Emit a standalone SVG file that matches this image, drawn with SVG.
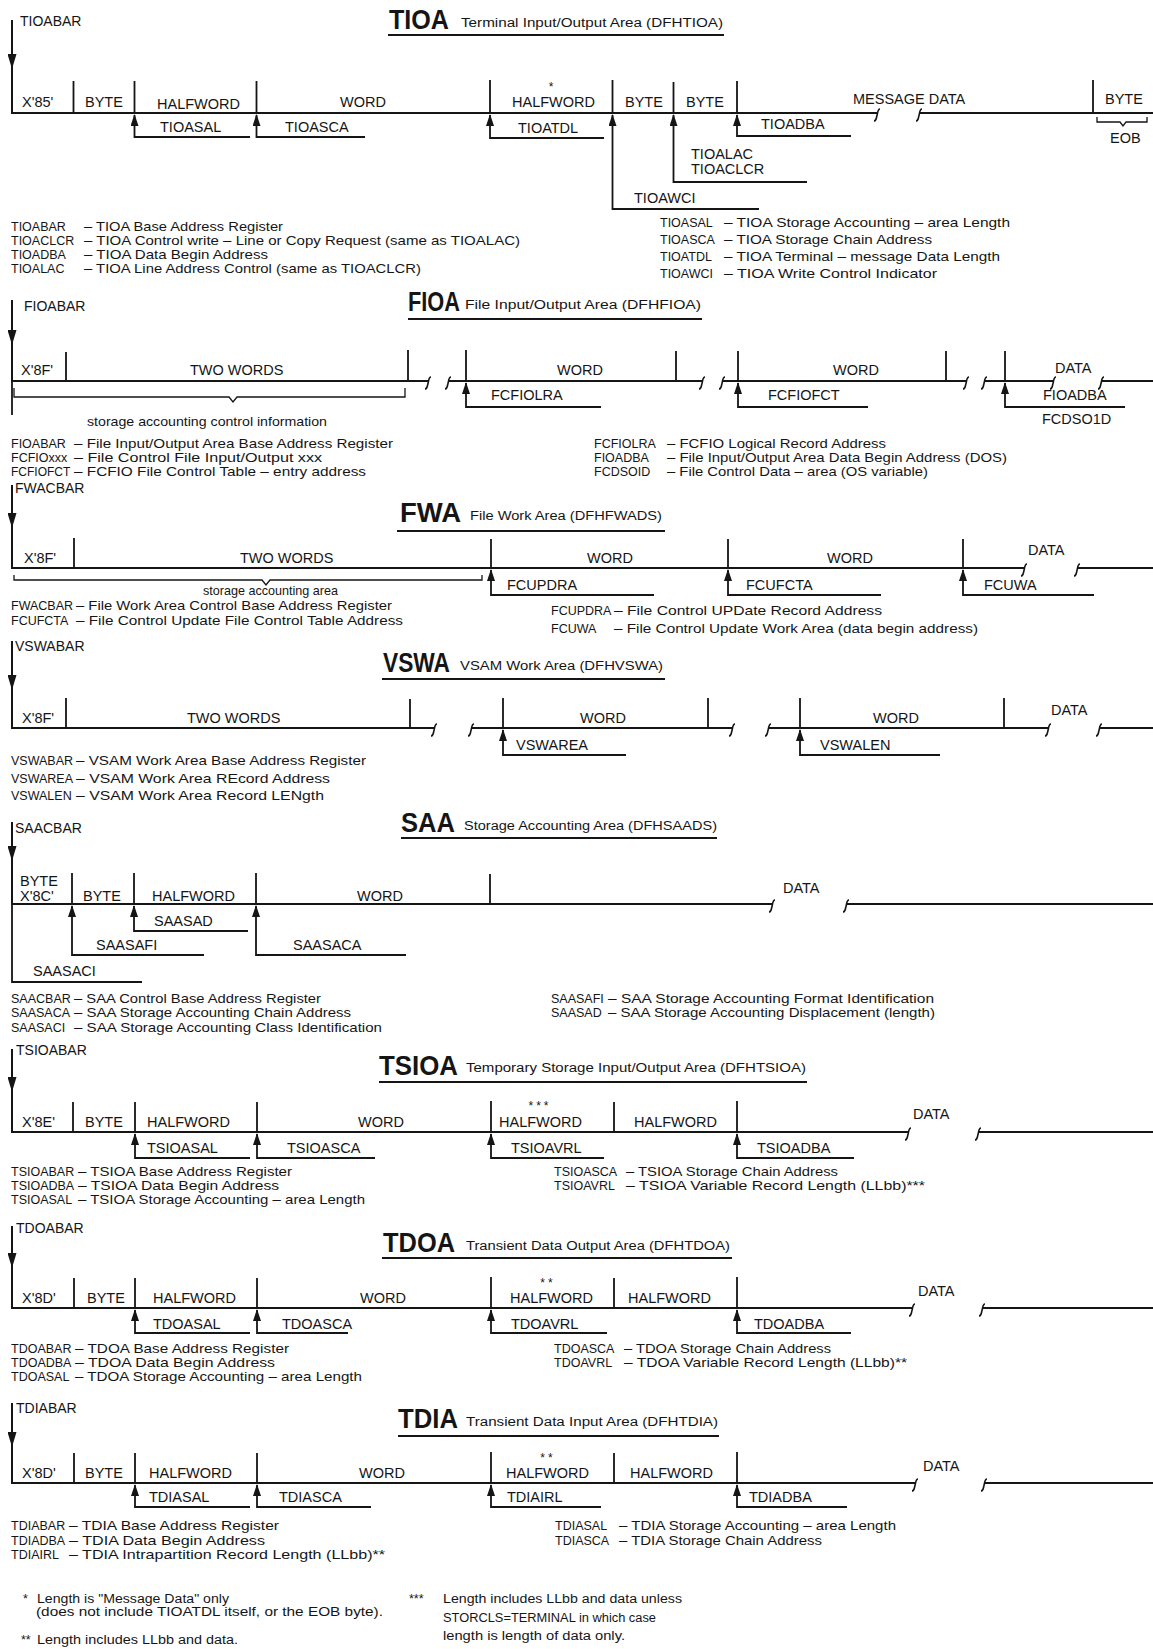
<svg xmlns="http://www.w3.org/2000/svg" width="1153" height="1649" viewBox="0 0 1153 1649">
<defs>
<style>
text{font-family:"Liberation Sans",Arial,sans-serif;fill:#151515}
.t{font-size:28px;font-weight:bold}
.s{font-size:12.5px}
.l{font-size:14.5px}
.n{font-size:14.5px}
.d{font-size:13.5px}
.dn{font-size:12.5px}
.f{font-size:12.5px}
.m{font-size:14px}
.a{font-size:13px}
.k{font-size:12px}
.ml{stroke:#151515;stroke-width:2.2;fill:none}
.dv{stroke:#151515;stroke-width:1.8;fill:none}
.pt{stroke:#151515;stroke-width:1.8;fill:none;marker-end:url(#up)}
.ul{stroke:#151515;stroke-width:2;fill:none}
.bk{stroke:#151515;stroke-width:1.6;fill:none}
.br{stroke:#151515;stroke-width:1.3;fill:none}
.bar{stroke:#151515;stroke-width:2;fill:none;marker-mid:url(#dn)}
</style>
<marker id="up" viewBox="0 0 12 8" refX="11" refY="4" markerWidth="12" markerHeight="8" markerUnits="userSpaceOnUse" orient="auto"><path d="M0,0 L12,4 L0,8 z" fill="#151515"/></marker>
<marker id="dn" viewBox="0 0 15 9" refX="15" refY="4.5" markerWidth="15" markerHeight="9" markerUnits="userSpaceOnUse" orient="auto"><path d="M0,0 L15,4.5 L0,9 z" fill="#151515"/></marker>
<path id="bm" d="M3,-4 C0.5,-4 0.8,0 0,2.5 C-0.8,5 -0.5,8 -3,8"/>
</defs>
<rect width="1153" height="1649" fill="#fff"/>

<!-- TIOA -->
<g id="tioa">
<g id="tioa-title">
<text class="t" x="389" y="29" textLength="60" lengthAdjust="spacingAndGlyphs">TIOA</text>
<text class="s" x="461" y="27" textLength="262" lengthAdjust="spacingAndGlyphs">Terminal Input/Output Area (DFHTIOA)</text>
<path class="ul" d="M388,35 H724"/>
</g>
<g id="tioa-record">
<text class="m" x="20" y="26">TIOABAR</text>
<path class="bar" d="M12,20 L12,69 L12,113"/>
<path class="ml" d="M11,113 H878 M920,113 H1153"/>
<use href="#bm" x="877" y="113" class="bk"/>
<use href="#bm" x="919" y="113" class="bk"/>
<path class="dv" d="M73.5,81 V113 M134.5,81 V113 M256.5,81 V113 M490,80 V113 M612.5,80 V113 M673.5,82 V113 M737,81 V113 M1093,80 V113"/>
<text class="l" x="22" y="107">X'85'</text>
<text class="l" x="85" y="107">BYTE</text>
<text class="l" x="157" y="109">HALFWORD</text>
<text class="l" x="340" y="107">WORD</text>
<text class="l" x="512" y="107">HALFWORD</text>
<text class="k" x="551" y="91" text-anchor="middle">*</text>
<text class="l" x="625" y="107">BYTE</text>
<text class="l" x="686" y="107">BYTE</text>
<text class="l" x="853" y="104">MESSAGE DATA</text>
<text class="l" x="1105" y="104">BYTE</text>
<path class="br" d="M1097,117 V122 H1120 L1123,126 L1126,122 H1147 V117"/>
<text class="n" x="1110" y="143">EOB</text>
</g>
<g id="tioa-pointers">
<path class="pt" d="M250,137 H134.5 V115"/>
<path class="pt" d="M365,137 H256.5 V115"/>
<path class="pt" d="M604,138 H490 V115"/>
<path class="pt" d="M759,209 H612.5 V115"/>
<path class="pt" d="M807,182 H673.5 V115"/>
<path class="pt" d="M851,136 H737 V115"/>
<text class="n" x="160" y="132">TIOASAL</text>
<text class="n" x="285" y="132">TIOASCA</text>
<text class="n" x="518" y="133">TIOATDL</text>
<text class="n" x="634" y="203">TIOAWCI</text>
<text class="n" x="691" y="159">TIOALAC</text>
<text class="n" x="691" y="174">TIOACLCR</text>
<text class="n" x="761" y="129">TIOADBA</text>
</g>
<g id="tioa-defs">
<text class="dn" x="11" y="231">TIOABAR</text><text class="d" x="84" y="231" textLength="199" lengthAdjust="spacingAndGlyphs">– TIOA Base Address Register</text>
<text class="dn" x="11" y="245">TIOACLCR</text><text class="d" x="84" y="245" textLength="436" lengthAdjust="spacingAndGlyphs">– TIOA Control write – Line or Copy Request (same as TIOALAC)</text>
<text class="dn" x="11" y="259">TIOADBA</text><text class="d" x="84" y="259" textLength="184" lengthAdjust="spacingAndGlyphs">– TIOA Data Begin Address</text>
<text class="dn" x="11" y="273">TIOALAC</text><text class="d" x="84" y="273" textLength="337" lengthAdjust="spacingAndGlyphs">– TIOA Line Address Control (same as TIOACLCR)</text>
<text class="dn" x="660" y="227">TIOASAL</text><text class="d" x="724" y="227" textLength="286" lengthAdjust="spacingAndGlyphs">– TIOA Storage Accounting – area Length</text>
<text class="dn" x="660" y="244">TIOASCA</text><text class="d" x="724" y="244" textLength="208" lengthAdjust="spacingAndGlyphs">– TIOA Storage Chain Address</text>
<text class="dn" x="660" y="261">TIOATDL</text><text class="d" x="724" y="261" textLength="276" lengthAdjust="spacingAndGlyphs">– TIOA Terminal – message Data Length</text>
<text class="dn" x="660" y="278">TIOAWCI</text><text class="d" x="724" y="278" textLength="213" lengthAdjust="spacingAndGlyphs">– TIOA Write Control Indicator</text>
</g>
</g>

<!-- FIOA -->
<g id="fioa">
<g id="fioa-title">
<text class="t" x="408" y="311" textLength="52" lengthAdjust="spacingAndGlyphs">FIOA</text>
<text class="s" x="465" y="309" textLength="236" lengthAdjust="spacingAndGlyphs">File Input/Output Area (DFHFIOA)</text>
<path class="ul" d="M408,319 H702"/>
</g>
<g id="fioa-record">
<text class="m" x="24" y="311">FIOABAR</text>
<path class="bar" d="M12,300 L12,345 L12,381"/>
<path class="dv" d="M12,381 V415"/>
<path class="ml" d="M11,381 H429 M449,381 H703 M723,381 H967 M985,381 H1054 M1102,381 H1153"/>
<use href="#bm" x="428" y="381" class="bk"/>
<use href="#bm" x="448" y="381" class="bk"/>
<use href="#bm" x="702" y="381" class="bk"/>
<use href="#bm" x="722" y="381" class="bk"/>
<use href="#bm" x="966" y="381" class="bk"/>
<use href="#bm" x="984" y="381" class="bk"/>
<use href="#bm" x="1053" y="381" class="bk"/>
<use href="#bm" x="1101" y="381" class="bk"/>
<path class="dv" d="M66,352 V381 M408,350 V381 M466,350 V381 M676,351 V381 M738,351 V381 M946,351 V381 M1005,351 V381"/>
<text class="l" x="21" y="375">X'8F'</text>
<text class="l" x="190" y="375">TWO WORDS</text>
<text class="l" x="557" y="375">WORD</text>
<text class="l" x="833" y="375">WORD</text>
<text class="l" x="1055" y="373">DATA</text>
<path class="br" d="M14,388 V397 H229 L233,402 L237,397 H405 V388"/>
<text class="a" x="87" y="426" textLength="240" lengthAdjust="spacingAndGlyphs">storage accounting control information</text>
</g>
<g id="fioa-pointers">
<path class="pt" d="M601,407 H466 V383"/>
<path class="pt" d="M868,407 H738 V383"/>
<path class="pt" d="M1125,407 H1005 V383"/>
<text class="n" x="491" y="400">FCFIOLRA</text>
<text class="n" x="768" y="400">FCFIOFCT</text>
<text class="n" x="1043" y="400">FIOADBA</text>
<text class="n" x="1042" y="424">FCDSO1D</text>
</g>
<g id="fioa-defs">
<text class="dn" x="11" y="448">FIOABAR</text><text class="d" x="74" y="448" textLength="319" lengthAdjust="spacingAndGlyphs">– File Input/Output Area Base Address Register</text>
<text class="dn" x="11" y="462">FCFIOxxx</text><text class="d" x="74" y="462" textLength="248" lengthAdjust="spacingAndGlyphs">– File Control File Input/Output xxx</text>
<text class="dn" x="11" y="476" style="font-size:12px">FCFIOFCT</text><text class="d" x="74" y="476" textLength="292" lengthAdjust="spacingAndGlyphs">– FCFIO File Control Table – entry address</text>
<text class="dn" x="594" y="448">FCFIOLRA</text><text class="d" x="667" y="448" textLength="219" lengthAdjust="spacingAndGlyphs">– FCFIO Logical Record Address</text>
<text class="dn" x="594" y="462">FIOADBA</text><text class="d" x="667" y="462" textLength="340" lengthAdjust="spacingAndGlyphs">– File Input/Output Area Data Begin Address (DOS)</text>
<text class="dn" x="594" y="476">FCDSOID</text><text class="d" x="667" y="476" textLength="261" lengthAdjust="spacingAndGlyphs">– File Control Data – area (OS variable)</text>
</g>
</g>

<!-- FWA -->
<g id="fwa">
<g id="fwa-title">
<text class="t" x="400" y="522" textLength="61" lengthAdjust="spacingAndGlyphs">FWA</text>
<text class="s" x="470" y="520" textLength="192" lengthAdjust="spacingAndGlyphs">File Work Area (DFHFWADS)</text>
<path class="ul" d="M397,531 H665"/>
</g>
<g id="fwa-record">
<text class="m" x="15" y="493">FWACBAR</text>
<path class="bar" d="M12,485 L12,528 L12,568"/>
<path class="ml" d="M11,568 H1025 M1078,568 H1153"/>
<use href="#bm" x="1024" y="568" class="bk"/>
<use href="#bm" x="1077" y="568" class="bk"/>
<path class="dv" d="M74,538 V568 M491,539 V568 M728,539 V568 M963,539 V568"/>
<text class="l" x="24" y="563">X'8F'</text>
<text class="l" x="240" y="563">TWO WORDS</text>
<text class="l" x="587" y="563">WORD</text>
<text class="l" x="827" y="563">WORD</text>
<text class="l" x="1028" y="555">DATA</text>
<path class="br" d="M14,575 V580 H262 L266,585 L270,580 H482 V575"/>
<text class="a" x="203" y="595" textLength="135" lengthAdjust="spacingAndGlyphs">storage accounting area</text>
</g>
<g id="fwa-pointers">
<path class="pt" d="M654,595 H491 V570"/>
<path class="pt" d="M881,595 H728 V570"/>
<path class="pt" d="M1094,595 H963 V570"/>
<text class="n" x="507" y="590">FCUPDRA</text>
<text class="n" x="746" y="590">FCUFCTA</text>
<text class="n" x="984" y="590">FCUWA</text>
</g>
<g id="fwa-defs">
<text class="dn" x="11" y="610">FWACBAR</text><text class="d" x="76" y="610" textLength="316" lengthAdjust="spacingAndGlyphs">– File Work Area Control Base Address Register</text>
<text class="dn" x="11" y="625">FCUFCTA</text><text class="d" x="76" y="625" textLength="327" lengthAdjust="spacingAndGlyphs">– File Control Update File Control Table Address</text>
<text class="dn" x="551" y="615">FCUPDRA</text><text class="d" x="614" y="615" textLength="268" lengthAdjust="spacingAndGlyphs">– File Control UPDate Record Address</text>
<text class="dn" x="551" y="633">FCUWA</text><text class="d" x="614" y="633" textLength="364" lengthAdjust="spacingAndGlyphs">– File Control Update Work Area (data begin address)</text>
</g>
</g>

<!-- VSWA -->
<g id="vswa">
<g id="vswa-title">
<text class="t" x="383" y="672" textLength="67" lengthAdjust="spacingAndGlyphs">VSWA</text>
<text class="s" x="460" y="670" textLength="203" lengthAdjust="spacingAndGlyphs">VSAM Work Area (DFHVSWA)</text>
<path class="ul" d="M382,679 H665"/>
</g>
<g id="vswa-record">
<text class="m" x="15" y="651">VSWABAR</text>
<path class="bar" d="M12,641 L12,690 L12,728"/>
<path class="ml" d="M11,728 H435 M472,728 H733 M769,728 H1049 M1100,728 H1153"/>
<use href="#bm" x="434" y="728" class="bk"/>
<use href="#bm" x="471" y="728" class="bk"/>
<use href="#bm" x="732" y="728" class="bk"/>
<use href="#bm" x="768" y="728" class="bk"/>
<use href="#bm" x="1048" y="728" class="bk"/>
<use href="#bm" x="1099" y="728" class="bk"/>
<path class="dv" d="M66,698 V728 M410,699 V728 M503,698 V728 M708,698 V728 M800,698 V728 M1004,698 V728"/>
<text class="l" x="22" y="723">X'8F'</text>
<text class="l" x="187" y="723">TWO WORDS</text>
<text class="l" x="580" y="723">WORD</text>
<text class="l" x="873" y="723">WORD</text>
<text class="l" x="1051" y="715">DATA</text>
</g>
<g id="vswa-pointers">
<path class="pt" d="M626,755 H503 V730"/>
<path class="pt" d="M940,755 H800 V730"/>
<text class="n" x="516" y="750">VSWAREA</text>
<text class="n" x="820" y="750">VSWALEN</text>
</g>
<g id="vswa-defs">
<text class="dn" x="11" y="765">VSWABAR</text><text class="d" x="76" y="765" textLength="290" lengthAdjust="spacingAndGlyphs">– VSAM Work Area Base Address Register</text>
<text class="dn" x="11" y="783">VSWAREA</text><text class="d" x="76" y="783" textLength="254" lengthAdjust="spacingAndGlyphs">– VSAM Work Area REcord Address</text>
<text class="dn" x="11" y="800">VSWALEN</text><text class="d" x="76" y="800" textLength="248" lengthAdjust="spacingAndGlyphs">– VSAM Work Area Record LENgth</text>
</g>
</g>

<!-- SAA -->
<g id="saa">
<g id="saa-title">
<text class="t" x="401" y="832" textLength="54" lengthAdjust="spacingAndGlyphs">SAA</text>
<text class="s" x="464" y="830" textLength="253" lengthAdjust="spacingAndGlyphs">Storage Accounting Area (DFHSAADS)</text>
<path class="ul" d="M401,838 H717"/>
</g>
<g id="saa-record">
<text class="m" x="15" y="833">SAACBAR</text>
<path class="bar" d="M12,822 L12,861 L12,904"/>
<path class="ml" d="M11,904 H773 M847,904 H1153"/>
<use href="#bm" x="772" y="904" class="bk"/>
<use href="#bm" x="846" y="904" class="bk"/>
<path class="dv" d="M72,873 V904 M134,873 V904 M256,873 V904 M490,874 V904"/>
<text class="l" x="20" y="886">BYTE</text>
<text class="l" x="20" y="901">X'8C'</text>
<text class="l" x="83" y="901">BYTE</text>
<text class="l" x="152" y="901">HALFWORD</text>
<text class="l" x="357" y="901">WORD</text>
<text class="l" x="783" y="893">DATA</text>
</g>
<g id="saa-pointers">
<path class="dv" d="M12,904 V982 H142"/>
<path class="pt" d="M204,955 H72 V906"/>
<path class="pt" d="M248,931 H134 V906"/>
<path class="pt" d="M406,955 H256 V906"/>
<text class="n" x="154" y="926">SAASAD</text>
<text class="n" x="96" y="950">SAASAFI</text>
<text class="n" x="293" y="950">SAASACA</text>
<text class="n" x="33" y="976">SAASACI</text>
</g>
<g id="saa-defs">
<text class="dn" x="11" y="1003">SAACBAR</text><text class="d" x="74" y="1003" textLength="247" lengthAdjust="spacingAndGlyphs">– SAA Control Base Address Register</text>
<text class="dn" x="11" y="1017">SAASACA</text><text class="d" x="74" y="1017" textLength="277" lengthAdjust="spacingAndGlyphs">– SAA Storage Accounting Chain Address</text>
<text class="dn" x="11" y="1032">SAASACI</text><text class="d" x="74" y="1032" textLength="308" lengthAdjust="spacingAndGlyphs">– SAA Storage Accounting Class Identification</text>
<text class="dn" x="551" y="1003">SAASAFI</text><text class="d" x="608" y="1003" textLength="326" lengthAdjust="spacingAndGlyphs">– SAA Storage Accounting Format Identification</text>
<text class="dn" x="551" y="1017">SAASAD</text><text class="d" x="608" y="1017" textLength="327" lengthAdjust="spacingAndGlyphs">– SAA Storage Accounting Displacement (length)</text>
</g>
</g>

<!-- TSIOA -->
<g id="tsioa">
<g id="tsioa-title">
<text class="t" x="379" y="1075" textLength="79" lengthAdjust="spacingAndGlyphs">TSIOA</text>
<text class="s" x="466" y="1072" textLength="340" lengthAdjust="spacingAndGlyphs">Temporary Storage Input/Output Area (DFHTSIOA)</text>
<path class="ul" d="M379,1082 H807"/>
</g>
<g id="tsioa-record">
<text class="m" x="16" y="1055">TSIOABAR</text>
<path class="bar" d="M12,1049 L12,1092 L12,1132"/>
<path class="ml" d="M11,1132 H909 M979,1132 H1153"/>
<use href="#bm" x="908" y="1132" class="bk"/>
<use href="#bm" x="978" y="1132" class="bk"/>
<path class="dv" d="M73,1102 V1132 M135,1102 V1132 M257,1102 V1132 M491,1101 V1132 M614,1102 V1132 M737,1101 V1132"/>
<text class="l" x="22" y="1127">X'8E'</text>
<text class="l" x="85" y="1127">BYTE</text>
<text class="l" x="147" y="1127">HALFWORD</text>
<text class="l" x="358" y="1127">WORD</text>
<text class="k" x="540" y="1110" text-anchor="middle" letter-spacing="3">***</text>
<text class="l" x="499" y="1127">HALFWORD</text>
<text class="l" x="634" y="1127">HALFWORD</text>
<text class="l" x="913" y="1119">DATA</text>
</g>
<g id="tsioa-pointers">
<path class="pt" d="M250,1158 H135 V1134"/>
<path class="pt" d="M375,1158 H257 V1134"/>
<path class="pt" d="M604,1158 H491 V1134"/>
<path class="pt" d="M854,1158 H737 V1134"/>
<text class="n" x="147" y="1153">TSIOASAL</text>
<text class="n" x="287" y="1153">TSIOASCA</text>
<text class="n" x="511" y="1153">TSIOAVRL</text>
<text class="n" x="757" y="1153">TSIOADBA</text>
</g>
<g id="tsioa-defs">
<text class="dn" x="11" y="1176">TSIOABAR</text><text class="d" x="78" y="1176" textLength="214" lengthAdjust="spacingAndGlyphs">– TSIOA Base Address Register</text>
<text class="dn" x="11" y="1190">TSIOADBA</text><text class="d" x="78" y="1190" textLength="201" lengthAdjust="spacingAndGlyphs">– TSIOA Data Begin Address</text>
<text class="dn" x="11" y="1204">TSIOASAL</text><text class="d" x="78" y="1204" textLength="287" lengthAdjust="spacingAndGlyphs">– TSIOA Storage Accounting – area Length</text>
<text class="dn" x="554" y="1176">TSIOASCA</text><text class="d" x="626" y="1176" textLength="212" lengthAdjust="spacingAndGlyphs">– TSIOA Storage Chain Address</text>
<text class="dn" x="554" y="1190">TSIOAVRL</text><text class="d" x="626" y="1190" textLength="299" lengthAdjust="spacingAndGlyphs">– TSIOA Variable Record Length (LLbb)***</text>
</g>
</g>

<!-- TDOA -->
<g id="tdoa">
<g id="tdoa-title">
<text class="t" x="383" y="1252" textLength="72" lengthAdjust="spacingAndGlyphs">TDOA</text>
<text class="s" x="466" y="1250" textLength="264" lengthAdjust="spacingAndGlyphs">Transient Data Output Area (DFHTDOA)</text>
<path class="ul" d="M382,1258 H732"/>
</g>
<g id="tdoa-record">
<text class="m" x="16" y="1233">TDOABAR</text>
<path class="bar" d="M12,1226 L12,1268 L12,1308"/>
<path class="ml" d="M11,1308 H913 M983,1308 H1153"/>
<use href="#bm" x="912" y="1308" class="bk"/>
<use href="#bm" x="982" y="1308" class="bk"/>
<path class="dv" d="M74,1278 V1308 M135,1278 V1308 M257,1278 V1308 M491,1277 V1308 M614,1278 V1308 M737,1277 V1308"/>
<text class="l" x="22" y="1303">X'8D'</text>
<text class="l" x="87" y="1303">BYTE</text>
<text class="l" x="153" y="1303">HALFWORD</text>
<text class="l" x="360" y="1303">WORD</text>
<text class="k" x="548" y="1287" text-anchor="middle" letter-spacing="3">**</text>
<text class="l" x="510" y="1303">HALFWORD</text>
<text class="l" x="628" y="1303">HALFWORD</text>
<text class="l" x="918" y="1296">DATA</text>
</g>
<g id="tdoa-pointers">
<path class="pt" d="M250,1333 H135 V1310"/>
<path class="pt" d="M348,1333 H257 V1310"/>
<path class="pt" d="M607,1333 H491 V1310"/>
<path class="pt" d="M851,1333 H737 V1310"/>
<text class="n" x="153" y="1329">TDOASAL</text>
<text class="n" x="282" y="1329">TDOASCA</text>
<text class="n" x="511" y="1329">TDOAVRL</text>
<text class="n" x="754" y="1329">TDOADBA</text>
</g>
<g id="tdoa-defs">
<text class="dn" x="11" y="1353">TDOABAR</text><text class="d" x="75" y="1353" textLength="214" lengthAdjust="spacingAndGlyphs">– TDOA Base Address Register</text>
<text class="dn" x="11" y="1367">TDOADBA</text><text class="d" x="75" y="1367" textLength="200" lengthAdjust="spacingAndGlyphs">– TDOA Data Begin Address</text>
<text class="dn" x="11" y="1381">TDOASAL</text><text class="d" x="75" y="1381" textLength="287" lengthAdjust="spacingAndGlyphs">– TDOA Storage Accounting – area Length</text>
<text class="dn" x="554" y="1353">TDOASCA</text><text class="d" x="624" y="1353" textLength="207" lengthAdjust="spacingAndGlyphs">– TDOA Storage Chain Address</text>
<text class="dn" x="554" y="1367">TDOAVRL</text><text class="d" x="624" y="1367" textLength="283" lengthAdjust="spacingAndGlyphs">– TDOA Variable Record Length (LLbb)**</text>
</g>
</g>

<!-- TDIA -->
<g id="tdia">
<g id="tdia-title">
<text class="t" x="398" y="1428" textLength="60" lengthAdjust="spacingAndGlyphs">TDIA</text>
<text class="s" x="466" y="1426" textLength="252" lengthAdjust="spacingAndGlyphs">Transient Data Input Area (DFHTDIA)</text>
<path class="ul" d="M398,1436 H719"/>
</g>
<g id="tdia-record">
<text class="m" x="16" y="1413">TDIABAR</text>
<path class="bar" d="M12,1403 L12,1447 L12,1483"/>
<path class="ml" d="M11,1483 H916 M985,1483 H1153"/>
<use href="#bm" x="915" y="1483" class="bk"/>
<use href="#bm" x="984" y="1483" class="bk"/>
<path class="dv" d="M74,1453 V1483 M135,1453 V1483 M257,1453 V1483 M491,1452 V1483 M614,1453 V1483 M737,1452 V1483"/>
<text class="l" x="22" y="1478">X'8D'</text>
<text class="l" x="85" y="1478">BYTE</text>
<text class="l" x="149" y="1478">HALFWORD</text>
<text class="l" x="359" y="1478">WORD</text>
<text class="k" x="548" y="1462" text-anchor="middle" letter-spacing="3">**</text>
<text class="l" x="506" y="1478">HALFWORD</text>
<text class="l" x="630" y="1478">HALFWORD</text>
<text class="l" x="923" y="1471">DATA</text>
</g>
<g id="tdia-pointers">
<path class="pt" d="M250,1507 H135 V1485"/>
<path class="pt" d="M371,1507 H257 V1485"/>
<path class="pt" d="M601,1507 H491 V1485"/>
<path class="pt" d="M847,1507 H737 V1485"/>
<text class="n" x="149" y="1502">TDIASAL</text>
<text class="n" x="279" y="1502">TDIASCA</text>
<text class="n" x="507" y="1502">TDIAIRL</text>
<text class="n" x="749" y="1502">TDIADBA</text>
</g>
<g id="tdia-defs">
<text class="dn" x="11" y="1530">TDIABAR</text><text class="d" x="69" y="1530" textLength="210" lengthAdjust="spacingAndGlyphs">– TDIA Base Address Register</text>
<text class="dn" x="11" y="1545">TDIADBA</text><text class="d" x="69" y="1545" textLength="196" lengthAdjust="spacingAndGlyphs">– TDIA Data Begin Address</text>
<text class="dn" x="11" y="1559">TDIAIRL</text><text class="d" x="69" y="1559" textLength="316" lengthAdjust="spacingAndGlyphs">– TDIA Intrapartition Record Length (LLbb)**</text>
<text class="dn" x="555" y="1530">TDIASAL</text><text class="d" x="619" y="1530" textLength="277" lengthAdjust="spacingAndGlyphs">– TDIA Storage Accounting – area Length</text>
<text class="dn" x="555" y="1545">TDIASCA</text><text class="d" x="619" y="1545" textLength="203" lengthAdjust="spacingAndGlyphs">– TDIA Storage Chain Address</text>
</g>
</g>

<!-- footnotes -->
<g id="notes">
<text class="f" x="23" y="1603">*</text>
<text class="f" x="37" y="1603" textLength="192" lengthAdjust="spacingAndGlyphs">Length is "Message Data" only</text>
<text class="f" x="36" y="1616" textLength="347" lengthAdjust="spacingAndGlyphs">(does not include TIOATDL itself, or the EOB byte).</text>
<text class="f" x="21" y="1644">**</text>
<text class="f" x="37" y="1644" textLength="201" lengthAdjust="spacingAndGlyphs">Length includes LLbb and data.</text>
<text class="f" x="409" y="1603">***</text>
<text class="f" x="443" y="1603" textLength="239" lengthAdjust="spacingAndGlyphs">Length includes LLbb and data unless</text>
<text class="f" x="443" y="1622" textLength="213" lengthAdjust="spacingAndGlyphs">STORCLS=TERMINAL in which case</text>
<text class="f" x="443" y="1640" textLength="182" lengthAdjust="spacingAndGlyphs">length is length of data only.</text>
</g>
</svg>
